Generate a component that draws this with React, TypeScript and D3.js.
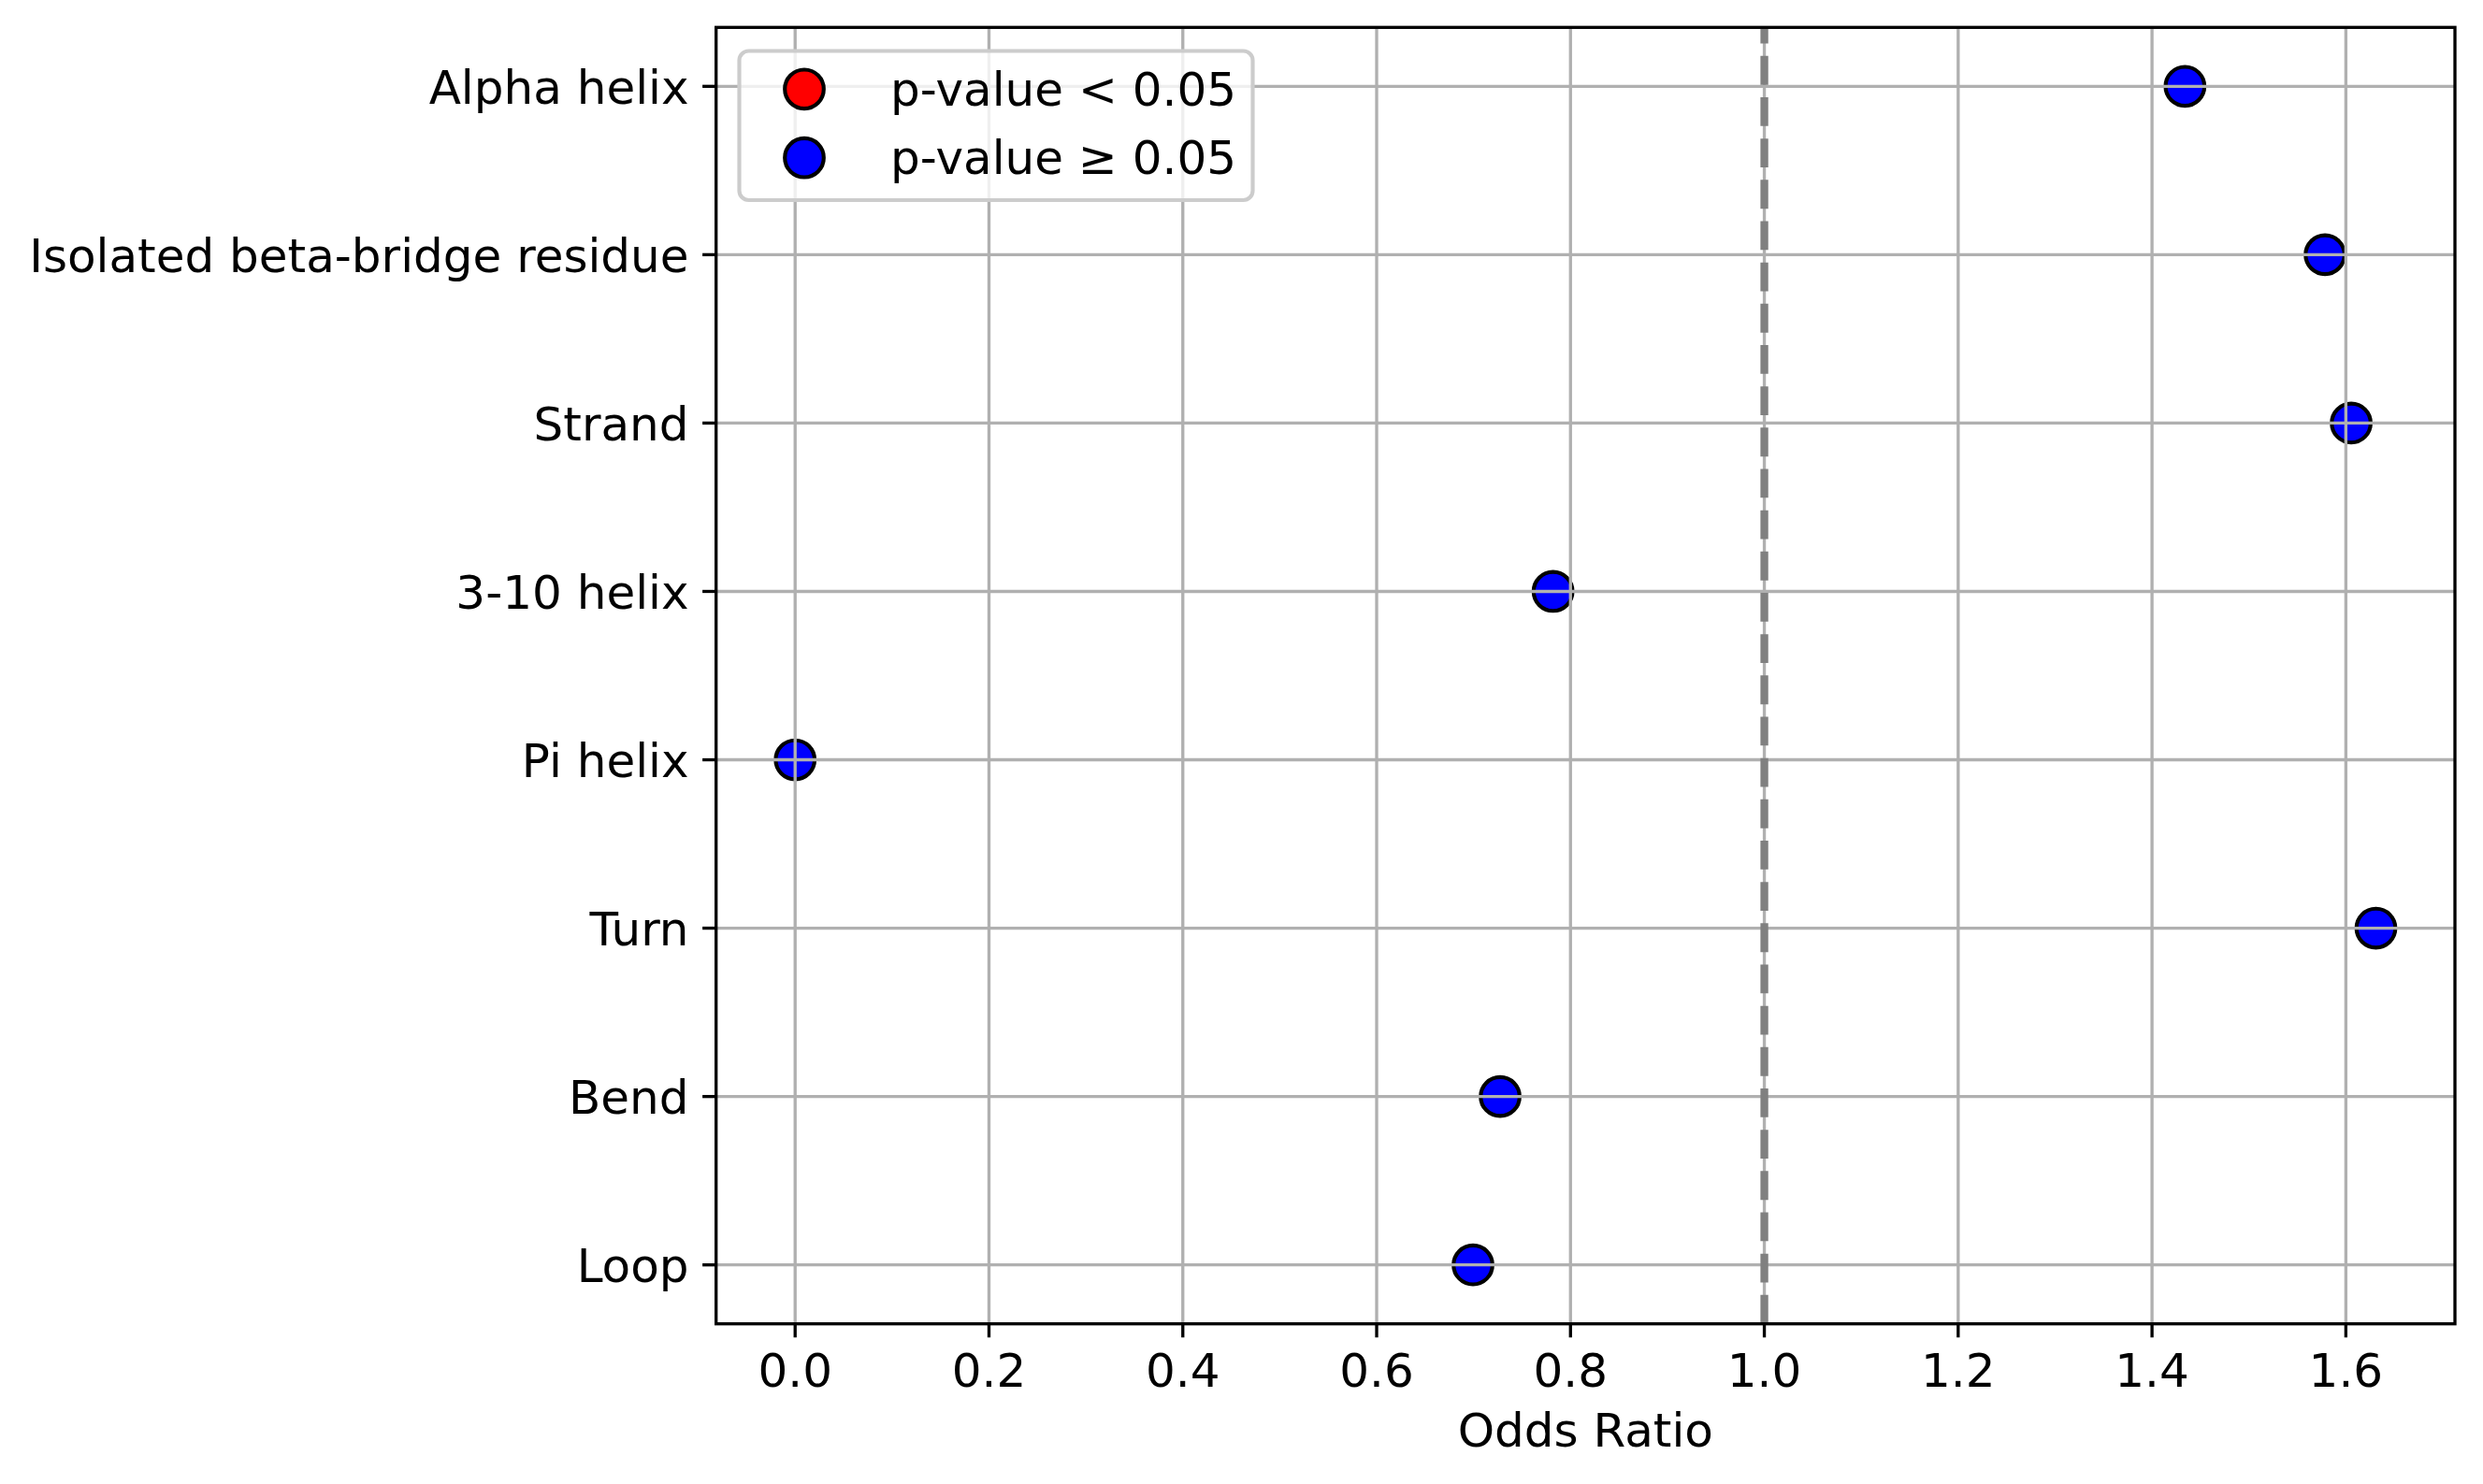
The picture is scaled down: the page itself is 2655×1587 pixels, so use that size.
import React from "react";
import * as d3 from "d3";

const categories = [
  "Alpha helix",
  "Isolated beta-bridge residue",
  "Strand",
  "3-10 helix",
  "Pi helix",
  "Turn",
  "Bend",
  "Loop",
];
const oddsRatios = [1.434, 1.5785, 1.6055, 0.782, 0.0, 1.631, 0.7274, 0.6994];
const significant = [false, false, false, false, false, false, false, false];
const xTicks = [0, 0.2, 0.4, 0.6, 0.8, 1.0, 1.2, 1.4, 1.6];
const legendLabels = ["p-value < 0.05", "p-value \u2265 0.05"];
const legendColors = ["red", "blue"];
const referenceLine = 1.0;
const xLabel = "Odds Ratio";

const W = 2655;
const H = 1587;
const L = 765.7;
const R = 2625;
const T = 29.3;
const B = 1415.7;
const PT = 300 / 72;
const FONT = "'DejaVu Sans', sans-serif";

export default function App() {
  const xmin = d3.min(oddsRatios)!;
  const xmax = d3.max(oddsRatios)!;
  const mx = (xmax - xmin) * 0.05;
  const x = d3.scaleLinear().domain([xmin - mx, xmax + mx]).range([L, R]);
  const n = categories.length;
  const my = (n - 1) * 0.05;
  const y = d3.scaleLinear().domain([-my, n - 1 + my]).range([T, B]);
  const lw = 0.8 * PT;
  const tickLen = 3.5 * PT;
  const pad = 3.5 * PT;
  const r = 20.8;
  const mlw = 1 * PT;

  return (
    <svg
      width={W}
      height={H}
      style={{ position: "absolute", left: 0, top: 0, background: "white" }}
      fontFamily={FONT}
    >
      <rect x={0} y={0} width={W} height={H} fill="white" />
      {/* points */}
      {oddsRatios.map((v, i) => (
        <circle
          key={i}
          cx={x(v)}
          cy={y(i)}
          r={r}
          fill={significant[i] ? "red" : "blue"}
          stroke="black"
          strokeWidth={mlw}
        />
      ))}
      {/* grid */}
      {xTicks.map((t) => (
        <line key={"gx" + t} x1={x(t)} x2={x(t)} y1={T} y2={B} stroke="#b0b0b0" strokeWidth={lw} />
      ))}
      {categories.map((c, i) => (
        <line key={"gy" + i} x1={L} x2={R} y1={y(i)} y2={y(i)} stroke="#b0b0b0" strokeWidth={lw} />
      ))}
      {/* reference dashed line */}
      <line
        x1={x(referenceLine)}
        x2={x(referenceLine)}
        y1={B}
        y2={T}
        stroke="#808080"
        strokeWidth={2 * PT}
        strokeDasharray={`${3.7 * 2 * PT},${1.6 * 2 * PT}`}
      />
      {/* spines */}
      <rect x={L} y={T} width={R - L} height={B - T} fill="none" stroke="black" strokeWidth={lw} />
      {/* x ticks */}
      {xTicks.map((t) => (
        <g key={"tx" + t}>
          <line x1={x(t)} x2={x(t)} y1={B} y2={B + tickLen} stroke="black" strokeWidth={lw} />
          <text x={x(t)} y={1483.3} fontSize={50} textAnchor="middle" fill="black">
            {t.toFixed(1)}
          </text>
        </g>
      ))}
      {/* y ticks */}
      {categories.map((c, i) => (
        <g key={"ty" + i}>
          <line x1={L - tickLen} x2={L} y1={y(i)} y2={y(i)} stroke="black" strokeWidth={lw} />
          <text x={L - tickLen - pad} y={y(i) + 18.5} fontSize={50} textAnchor="end" fill="black">
            {c}
          </text>
        </g>
      ))}
      <text x={(L + R) / 2} y={1546.5} fontSize={50} textAnchor="middle" fill="black">
        {xLabel}
      </text>
      {/* legend */}
      <g>
        <rect
          x={790.5}
          y={54.5}
          width={549}
          height={159.5}
          rx={10}
          ry={10}
          fill="white"
          fillOpacity={0.8}
          stroke="#cccccc"
          strokeWidth={mlw}
        />
        {legendLabels.map((lab, i) => (
          <g key={"lg" + i}>
            <circle
              cx={860}
              cy={95.3 + i * 73.4}
              r={r}
              fill={legendColors[i]}
              stroke="black"
              strokeWidth={mlw}
            />
            <text x={952} y={95.3 + i * 73.4 + 17.5} fontSize={50} fill="black">
              {lab}
            </text>
          </g>
        ))}
      </g>
    </svg>
  );
}
